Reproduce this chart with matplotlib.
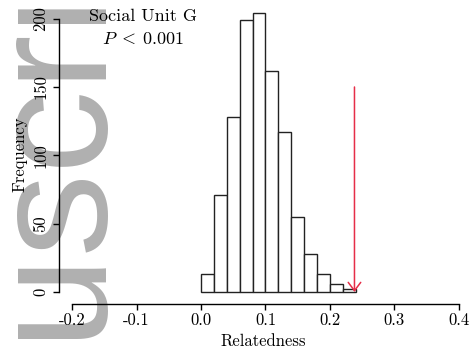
import numpy as np
import matplotlib
matplotlib.use("Agg")
import matplotlib.pyplot as plt

# histogram of relatedness (bin width 0.02)
bin_left = [0.00, 0.02, 0.04, 0.06, 0.08, 0.10, 0.12, 0.14, 0.16, 0.18, 0.20, 0.22]
counts = [13, 71, 128, 199, 204, 162, 117, 55, 28, 13, 6, 2]
bin_width = 0.02

observed = 0.238  # observed relatedness (red arrow)
arrow_top = 150

xticks = [-0.2, -0.1, 0.0, 0.1, 0.2, 0.3, 0.4]
xtick_labels = ["-0.2", "-0.1", "0.0", "0.1", "0.2", "0.3", "0.4"]
yticks = [0, 50, 100, 150, 200]
ytick_labels = ["0", "50", "100", "150", "200"]

plt.rcParams["font.family"] = "serif"
plt.rcParams["font.serif"] = ["cmr10", "DejaVu Serif"]
plt.rcParams["mathtext.fontset"] = "cm"
plt.rcParams["axes.unicode_minus"] = False

W, H = 469, 357
fig = plt.figure(figsize=(W / 100, H / 100), dpi=100)

# grey "Manuscript" watermark running up the left edge, behind everything
fig.text(93 / W, 1 - 659 / H, "Manuscript", rotation=90, rotation_mode="anchor",
         fontsize=120, family="Liberation Sans", color="#b0b0b0",
         ha="left", va="baseline", zorder=-5)

ax = fig.add_axes([59 / W, 1 - 304 / H, (467 - 59) / W, (304 - 5) / H])
ax.patch.set_alpha(0)

ax.bar(bin_left, counts, width=bin_width, align="edge",
       facecolor="white", edgecolor="#222222", linewidth=1.0)

ax.annotate("", xy=(observed, 0), xytext=(observed, arrow_top),
            arrowprops=dict(arrowstyle="->,head_length=0.6,head_width=0.45",
                            color="#e62e48", lw=1.1, shrinkA=0, shrinkB=0))

ax.set_xlim(-0.2202, 0.4125)
ax.set_ylim(-8.8, 210)

for s in ["top", "right"]:
    ax.spines[s].set_visible(False)
ax.spines["left"].set_bounds(0, 200)
ax.spines["bottom"].set_bounds(-0.2, 0.4)
for s in ["left", "bottom"]:
    ax.spines[s].set_linewidth(1.0)

ax.set_xticks(xticks, labels=xtick_labels)
ax.set_yticks(yticks, labels=ytick_labels)
ax.tick_params(axis="both", labelsize=12, length=4, width=1.0, direction="out")
ax.tick_params(axis="x", pad=2)
for lab in ax.get_yticklabels():
    lab.set_rotation(90)
    lab.set_va("center")

ax.set_xlabel("Relatedness", fontsize=12, labelpad=4)
ax.set_ylabel("Frequency", fontsize=12, labelpad=4)

ax.text(-0.09, 201.5, "Social Unit G", fontsize=13, ha="center", va="center")
ax.text(-0.09, 185, r"$P \;<\; 0.001$", fontsize=13, ha="center", va="center")

fig.savefig("out.png", dpi=100)
